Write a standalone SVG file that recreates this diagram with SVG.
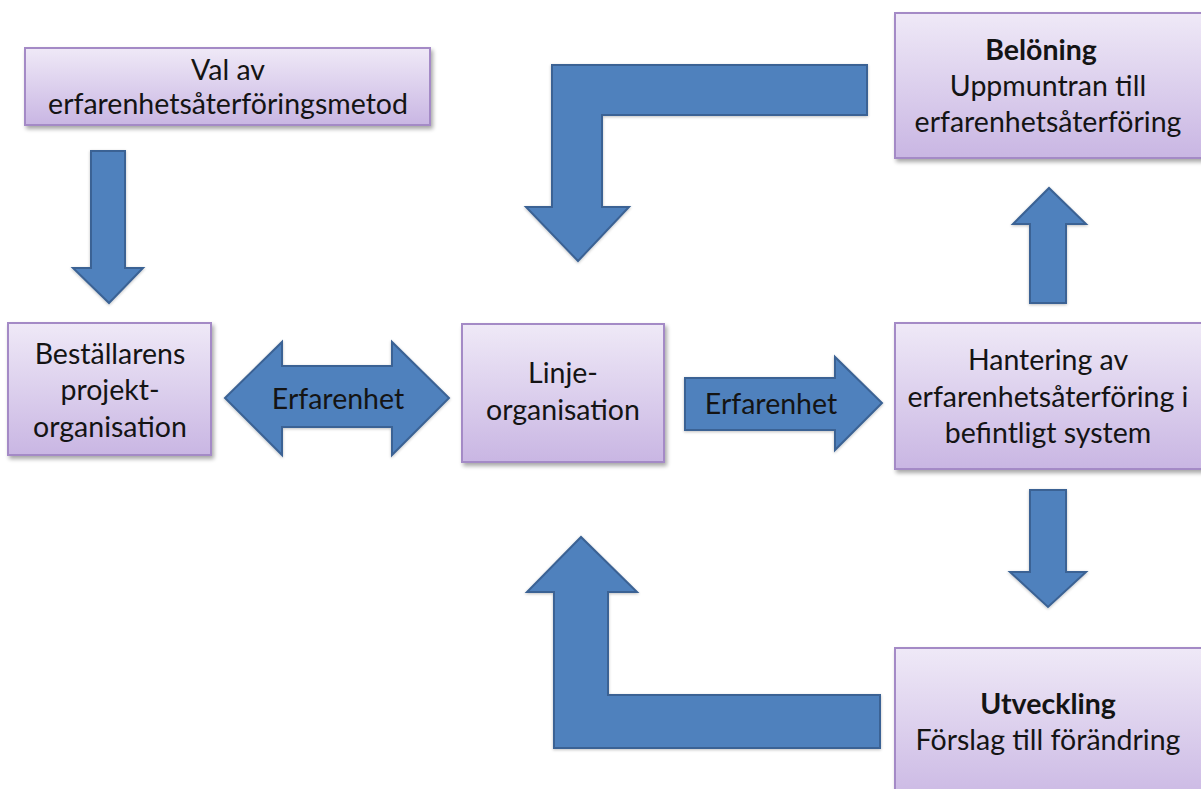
<svg xmlns="http://www.w3.org/2000/svg" width="1201" height="789" viewBox="0 0 1201 789">
<defs>
<linearGradient id="boxGrad" x1="0" y1="0" x2="0" y2="1">
<stop offset="0" stop-color="#efe9f7"/>
<stop offset="1" stop-color="#c9b6e3"/>
</linearGradient>
<filter id="shadow" x="-10%" y="-10%" width="125%" height="130%">
<feGaussianBlur in="SourceAlpha" stdDeviation="2"/>
<feOffset dx="2" dy="3" result="b"/>
<feComponentTransfer><feFuncA type="linear" slope="0.35"/></feComponentTransfer>
<feMerge><feMergeNode/><feMergeNode in="SourceGraphic"/></feMerge>
</filter>
<filter id="ashadow" x="-10%" y="-10%" width="125%" height="130%">
<feGaussianBlur in="SourceAlpha" stdDeviation="1.5"/>
<feOffset dx="0" dy="1" result="b"/>
<feComponentTransfer><feFuncA type="linear" slope="0.25"/></feComponentTransfer>
<feMerge><feMergeNode/><feMergeNode in="SourceGraphic"/></feMerge>
</filter>
</defs>
<style>
.box{fill:url(#boxGrad);stroke:#a48ac6;stroke-width:2;filter:url(#shadow)}
.arrow{fill:#4f81bd;stroke:#3b6294;stroke-width:2;stroke-linejoin:miter;filter:url(#ashadow)}
text{font-family:Lato,"Open Sans","Liberation Sans",sans-serif;font-size:28.5px;fill:#141414;text-anchor:middle}
.b{font-weight:bold}
</style>
<rect width="1201" height="789" fill="#ffffff"/>

<g id="connectors">
<path class="arrow" d="M91,151 H125 V268 H143 L109,303 L73,268 H91 Z"/>
<path class="arrow" d="M225,398 L282,342 V366 H392 V342 L449,398 L392,455 V427 H282 V455 Z"/>
<path class="arrow" d="M685,378 H835 V357 L882,403 L835,450 V430 H685 Z"/>
<path class="arrow" d="M1030,303 V224 H1013 L1049,188 L1086,224 H1066 V303 Z"/>
<path class="arrow" d="M1030,490 H1066 V572 H1086 L1048,607 L1010,572 H1030 Z"/>
<path class="arrow" d="M867,65 V115 H602 V207 H629 L578,261 L526,207 H552 V65 Z"/>
<path class="arrow" d="M880,695 V748 H554 V592 H527 L581,537 L637,592 H608 V695 Z"/>
<text x="338" y="409">Erfarenhet</text>
<text x="771" y="414">Erfarenhet</text>
</g>

<g id="node-val">
<rect class="box" x="25" y="48" width="405" height="77"/>
<text x="228" y="80">Val av</text>
<text x="228" y="114">erfarenhetsåterföringsmetod</text>
</g>

<g id="node-bestallarens">
<rect class="box" x="8" y="323" width="203" height="132"/>
<text x="110" y="364">Beställarens</text>
<text x="110" y="400">projekt-</text>
<text x="110" y="437">organisation</text>
</g>

<g id="node-linje">
<rect class="box" x="462" y="324" width="202" height="138"/>
<text x="563" y="383">Linje-</text>
<text x="563" y="420">organisation</text>
</g>

<g id="node-hantering">
<rect class="box" x="895" y="323" width="320" height="146"/>
<text x="1048" y="370">Hantering av</text>
<text x="1048" y="407">erfarenhetsåterföring i</text>
<text x="1048" y="443">befintligt system</text>
</g>

<g id="node-beloning">
<rect class="box" x="895" y="13" width="320" height="145"/>
<text class="b" x="1041" y="60">Belöning</text>
<text x="1048" y="96">Uppmuntran till</text>
<text x="1048" y="132">erfarenhetsåterföring</text>
</g>

<g id="node-utveckling">
<rect class="box" x="895" y="648" width="320" height="160"/>
<text class="b" x="1048" y="714">Utveckling</text>
<text x="1048" y="750">Förslag till förändring</text>
</g>
</svg>
